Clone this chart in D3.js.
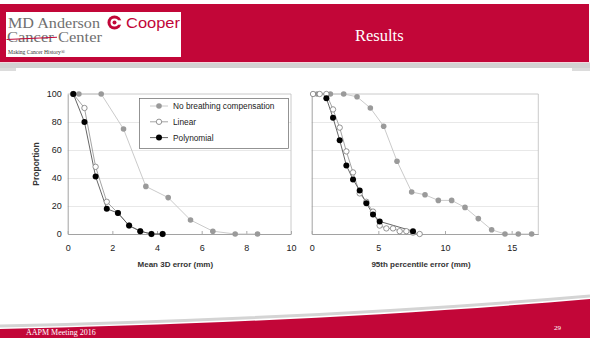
<!DOCTYPE html>
<html>
<head>
<meta charset="utf-8">
<script src="https://cdn.jsdelivr.net/npm/d3@7"></script>
<style>
    body { margin: 0; background: #fff; }
    svg { display: block; }
    .tick text { font-family: "Liberation Sans", Arial, sans-serif; fill: #222; }
</style>
</head>
<body>
<div id="slide"></div>
<script>
// Series names (legend order)
const seriesNames = ['No breathing compensation', 'Linear', 'Polynomial'];

// Left panel: mean 3D error (mm) vs proportion (%)
const meanNoCompX = [0.25, 0.5, 1.5, 2.5, 3.5, 4.5, 5.5, 6.5, 7.5, 8.5];
const meanNoCompY = [100, 100, 100, 75, 34, 26, 10, 2, 0, 0];
const meanLinX = [0.25, 0.75, 1.25, 1.75, 2.25, 2.75, 3.25, 3.75, 4.25];
const meanLinY = [100, 90, 48, 23, 15, 6, 2, 0, 0];
const meanPolyX = [0.25, 0.75, 1.25, 1.75, 2.25, 2.75, 3.25, 3.75, 4.25];
const meanPolyY = [100, 80, 41, 18, 15, 6, 2, 0, 0];

// Right panel: 95th percentile error (mm) vs proportion (%)
const p95NoCompX = [0.4, 1.4, 2.4, 3.4, 4.4, 5.4, 6.4, 7.5, 8.5, 9.5, 10.5, 11.5, 12.5, 13.5, 14.5, 15.5, 16.5];
const p95NoCompY = [100, 100, 100, 98, 90, 77, 52, 30, 28, 24, 24, 19, 11, 3, 0, 0, 0];
const p95LinX = [0.1, 0.6, 1.1, 1.6, 2.1, 2.6, 3.1, 3.6, 4.1, 4.6, 5.1, 5.6, 6.1, 6.6, 7.1, 7.6, 8.1];
const p95LinY = [100, 100, 100, 89, 76, 59, 44, 29, 23, 16, 6, 4, 4, 2, 2, 1, 0];
const p95PolyX = [1.1, 1.6, 2.1, 2.6, 3.1, 3.6, 4.1, 4.6, 5.1, 7.6];
const p95PolyY = [97, 83, 67, 49, 39, 31, 22, 14, 9, 2];

// Axis ticks
const yTicks = [0, 20, 40, 60, 80, 100];
const meanTicks = [0, 2, 4, 6, 8, 10];
const p95Ticks = [0, 5, 10, 15];

const W = 590, H = 338;
const red = '#c20638';
const sans = '"Liberation Sans", Arial, sans-serif';
const serif = '"Liberation Serif", "Times New Roman", serif';

const svg = d3.select('#slide')
    .append('svg')
    .attr('width', W)
    .attr('height', H);

// ---- slide header ----
svg.append('rect').attr('x', 0).attr('y', 4).attr('width', 589).attr('height', 58).attr('fill', red);
svg.append('rect').attr('x', 0).attr('y', 62).attr('width', W).attr('height', 1).attr('fill', '#f3d6dc');
svg.append('rect').attr('x', 0).attr('y', 63).attr('width', W).attr('height', 5).attr('fill', '#d2d2d2');
svg.append('rect').attr('x', 0).attr('y', 68).attr('width', 16).attr('height', 3).attr('fill', '#dcdcdc');
svg.append('rect').attr('x', 572).attr('y', 68).attr('width', 18).attr('height', 3).attr('fill', '#dcdcdc');

// logo box
const logo = svg.append('g');
logo.append('rect').attr('x', 6).attr('y', 12).attr('width', 175).attr('height', 45).attr('fill', '#fff');
logo.append('text').attr('x', 8).attr('y', 27.5).attr('font-family', serif).attr('font-size', 15)
    .attr('fill', '#6f6f6f').attr('textLength', 92).attr('lengthAdjust', 'spacingAndGlyphs').text('MD Anderson');
logo.append('circle').attr('cx', 114.5).attr('cy', 22.5).attr('r', 7).attr('fill', red);
logo.append('circle').attr('cx', 114.5).attr('cy', 22.5).attr('r', 4).attr('fill', '#fff');
logo.append('rect').attr('x', 117).attr('y', 20.3).attr('width', 5).attr('height', 4.4).attr('fill', '#fff');
logo.append('circle').attr('cx', 114.5).attr('cy', 22.5).attr('r', 2).attr('fill', red);
logo.append('text').attr('x', 126).attr('y', 27.5).attr('font-family', sans).attr('font-size', 15)
    .attr('fill', red).attr('textLength', 54).attr('lengthAdjust', 'spacingAndGlyphs').text('Cooper');
logo.append('text').attr('x', 7).attr('y', 42).attr('font-family', serif).attr('font-size', 15)
    .attr('fill', '#6f6f6f').attr('textLength', 95).attr('lengthAdjust', 'spacingAndGlyphs').text('Cancer Center');
logo.append('line').attr('x1', 6.5).attr('y1', 39.5).attr('x2', 57).attr('y2', 37.3)
    .attr('stroke', red).attr('stroke-width', 1.1);
logo.append('text').attr('x', 8).attr('y', 54).attr('font-family', serif).attr('font-size', 5.6)
    .attr('fill', '#333').text('Making Cancer History\u00AE');

svg.append('text').attr('x', 355).attr('y', 41).attr('font-family', serif).attr('font-size', 16.5)
    .attr('fill', '#fff').text('Results');

// ---- slide footer ----
svg.append('path')
    .attr('d', 'M0,326 C180,322 380,314 590,296')
    .attr('fill', 'none').attr('stroke', '#d4d4d4').attr('stroke-width', 3);
svg.append('path')
    .attr('d', 'M0,329 C180,325 380,317 590,299 L590,338 L0,338 Z')
    .attr('fill', red);
svg.append('text').attr('x', 26).attr('y', 335).attr('font-family', serif).attr('font-size', 8)
    .attr('fill', '#fff').text('AAPM Meeting 2016');
svg.append('text').attr('x', 554).attr('y', 330).attr('font-family', serif).attr('font-size', 7)
    .attr('fill', '#fff').text('29');

// ---- charts ----
const yScale = d3.scaleLinear().domain([0, 100]).range([234, 94]);
const xMean = d3.scaleLinear().domain([0, 10]).range([67.7, 291]);
const xP95 = d3.scaleLinear().domain([0, 17]).range([311.7, 538.3]);

function zip(xs, ys) {
    return xs.map((x, i) => ({ x: x, y: ys[i] }));
}

const seriesStyle = [
    { line: '#c4c4c4', fill: '#9a9a9a', stroke: 'none', r: 2.8 },
    { line: '#9a9a9a', fill: '#fff', stroke: '#7a7a7a', r: 2.7 },
    { line: '#555', fill: '#000', stroke: 'none', r: 3 }
];

function drawPanel(x, series, ticks, xTitle, showY) {
    const g = svg.append('g');
    const [x0, x1] = x.range();

    // grid
    g.append('g')
        .attr('transform', `translate(${x0},0)`)
        .call(d3.axisLeft(yScale).tickValues([20, 40, 60, 80]).tickSize(-(x1 - x0)).tickFormat(''))
        .call(a => a.selectAll('line').attr('stroke', '#dedede').attr('stroke-width', 0.7))
        .call(a => a.select('.domain').remove());

    // plot border
    g.append('path')
        .attr('d', `M${x0},${yScale(100)}H${x1}V${yScale(0)}`)
        .attr('fill', 'none').attr('stroke', '#bdbdbd').attr('stroke-width', 0.8);

    // y axis
    const yAxis = g.append('g')
        .attr('transform', `translate(${x0},0)`)
        .call(d3.axisLeft(yScale).tickValues(yTicks).tickSize(0).tickPadding(6))
        .call(a => a.select('.domain').attr('stroke', '#8a8a8a').attr('stroke-width', 0.8));
    yAxis.selectAll('text').attr('font-size', 9);
    if (!showY) yAxis.selectAll('text').remove();

    // x axis
    g.append('g')
        .attr('transform', `translate(0,${yScale(0)})`)
        .call(d3.axisBottom(x).tickValues(ticks).tickSizeInner(-3).tickSizeOuter(0).tickPadding(11))
        .call(a => a.select('.domain').attr('stroke', '#8a8a8a').attr('stroke-width', 0.8))
        .call(a => a.selectAll('line').attr('stroke', '#aaa'))
        .call(a => a.selectAll('text').attr('font-size', 9));

    g.append('text')
        .attr('x', (x0 + x1) / 2 - 4).attr('y', 267)
        .attr('text-anchor', 'middle').attr('font-family', sans).attr('font-size', 8)
        .attr('font-weight', 'bold').attr('fill', '#333').text(xTitle);

    const line = d3.line().x(d => x(d.x)).y(d => yScale(d.y));

    // lines first, markers on top
    series.forEach((pts, i) => {
        g.append('path').datum(pts)
            .attr('fill', 'none').attr('stroke', seriesStyle[i].line).attr('stroke-width', 0.9)
            .attr('d', line);
    });
    series.forEach((pts, i) => {
        const s = seriesStyle[i];
        g.selectAll(null).data(pts).enter().append('circle')
            .attr('cx', d => x(d.x)).attr('cy', d => yScale(d.y)).attr('r', s.r)
            .attr('fill', s.fill).attr('stroke', s.stroke).attr('stroke-width', 0.8);
    });
    return g;
}

const left = drawPanel(xMean, [
    zip(meanNoCompX, meanNoCompY),
    zip(meanLinX, meanLinY),
    zip(meanPolyX, meanPolyY)
], meanTicks, 'Mean 3D error (mm)', true);

drawPanel(xP95, [
    zip(p95NoCompX, p95NoCompY),
    zip(p95LinX, p95LinY),
    zip(p95PolyX, p95PolyY)
], p95Ticks, '95th percentile error (mm)', false);

// y title
svg.append('text')
    .attr('transform', 'translate(39,164) rotate(-90)')
    .attr('text-anchor', 'middle').attr('font-family', sans).attr('font-size', 8.5)
    .attr('font-weight', 'bold').attr('fill', '#333').text('Proportion');

// legend
const legend = left.append('g');
legend.append('rect').attr('x', 139.5).attr('y', 98.5).attr('width', 149).attr('height', 50)
    .attr('fill', '#fff').attr('stroke', '#666').attr('stroke-width', 0.7);
seriesNames.forEach((name, i) => {
    const s = seriesStyle[i];
    const yy = 106 + i * 15.8;
    legend.append('line').attr('x1', 150).attr('x2', 168).attr('y1', yy).attr('y2', yy)
        .attr('stroke', s.line).attr('stroke-width', 0.9);
    legend.append('circle').attr('cx', 159).attr('cy', yy).attr('r', s.r)
        .attr('fill', s.fill).attr('stroke', s.stroke).attr('stroke-width', 0.8);
    legend.append('text').attr('x', 173).attr('y', yy + 3).attr('font-family', sans)
        .attr('font-size', 8.3).attr('fill', '#222').text(name);
});
</script>
</body>
</html>
